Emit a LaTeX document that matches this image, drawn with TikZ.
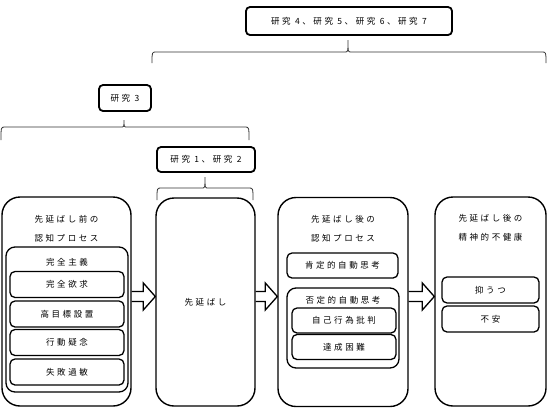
\documentclass[tikz,border=0pt]{standalone}
\usepackage{fontspec}
\newfontfamily\jp{Noto Sans CJK JP}[LetterSpace=30]
\usetikzlibrary{calc}
\newcommand\blockarr[2]{%
  \draw[barrow] ($(#1 |- ay)+(0,-5)$) -- ($(#2 |- ay)+(-12,-5)$) -- ($(#2 |- ay)+(-12,-13.5)$)
    -- (#2 |- ay) -- ($(#2 |- ay)+(-12,13.5)$) -- ($(#2 |- ay)+(-12,5)$) -- ($(#1 |- ay)+(0,5)$);}
\begin{document}
\begin{tikzpicture}[x=1pt,y=-1pt,
  jp/.style={font=\jp\fontsize{8.5}{10}\selectfont},
  bigbox/.style={draw, line width=1.4pt, rounded corners=18pt, inner sep=0pt, jp},
  midbox/.style={draw, line width=1.3pt, rounded corners=9pt, inner sep=0pt},
  subbox/.style={draw, line width=1.3pt, rounded corners=5pt, inner sep=0pt, jp},
  studybox/.style={draw, line width=1.8pt, rounded corners=4pt, inner sep=0pt, jp},
  title/.style={align=center, inner sep=0pt, font=\jp\fontsize{8.5}{19}\selectfont},
  label/.style={inner sep=0pt, jp},
  brace/.style={draw, line width=0.8pt, black!80},
  barrow/.style={draw, line width=1.3pt, line join=miter},
]
\useasboundingbox (0,0) rectangle (549,410);

% study boxes
\node[studybox, minimum width=206pt, minimum height=28pt] (r47) at (349,21) {研究 4、研究 5、研究 6、研究 7};
\node[studybox, minimum width=52pt, minimum height=26pt] (r3) at (125,98) {研究 3};
\node[studybox, minimum width=98pt, minimum height=25pt] (r12) at (206,159.5) {研究 1、研究 2};

% braces
\draw[brace] (152,63) .. controls (152,52) .. (156,52) -- (345,52) .. controls (348,52) .. (348,40)
  .. controls (348,52) .. (351,52) -- (542,52) .. controls (546,52) .. (546,63);
\draw[brace] (1,140) .. controls (1,127) .. (5,127) -- (121,127) .. controls (124,127) .. (124,120)
  .. controls (124,127) .. (127,127) -- (245,127) .. controls (249,127) .. (249,140);
\draw[brace] (157,200) .. controls (157,188) .. (161,188) -- (202,188) .. controls (205,188) .. (205,177)
  .. controls (205,188) .. (208,188) -- (249,188) .. controls (253,188) .. (253,200);

% main boxes
\node[bigbox, minimum width=129pt, minimum height=209pt] (b1) at (66.5,301.5) {};
\node[bigbox, minimum width=99pt, minimum height=208pt] (b2) at (205.5,302) {先延ばし};
\node[bigbox, minimum width=130pt, minimum height=209pt] (b3) at (343,302) {};
\node[bigbox, minimum width=111pt, minimum height=209pt] (b4) at (490.5,301.5) {};

\node[title] (t1) at (66.5,228.5) {先延ばし前の\\認知プロセス};
\node[title] (t3) at (343,228.5) {先延ばし後の\\認知プロセス};
\node[title] (t4) at (490.5,227.5) {先延ばし後の\\精神的不健康};

% box 1 contents
\node[midbox, minimum width=122pt, minimum height=145pt] (m1) at (67,319.5) {};
\node[label] (m1l) at (67,262) {完全主義};
\node[subbox, minimum width=114pt, minimum height=26pt] (s1) at (67,284.5) {完全欲求};
\node[subbox, minimum width=114pt, minimum height=26pt] (s2) at (67,314) {高目標設置};
\node[subbox, minimum width=114pt, minimum height=26pt] (s3) at (67,342.5) {行動疑念};
\node[subbox, minimum width=114pt, minimum height=26pt] (s4) at (67,372) {失敗過敏};

% box 3 contents
\node[subbox, minimum width=111pt, minimum height=25pt] (p1) at (342.5,265.5) {肯定的自動思考};
\node[midbox, minimum width=112pt, minimum height=80pt] (n1) at (343,328) {};
\node[label] (n1l) at (343,300) {否定的自動思考};
\node[subbox, minimum width=104pt, minimum height=25pt] (n2) at (344,320.5) {自己行為批判};
\node[subbox, minimum width=104pt, minimum height=25pt] (n3) at (344,347) {達成困難};

% box 4 contents
\node[subbox, minimum width=97pt, minimum height=26pt] (d1) at (490.5,290) {抑うつ};
\node[subbox, minimum width=97pt, minimum height=26pt] (d2) at (490.5,319) {不安};

% block arrows
\coordinate (ay) at (0,296.5);
\blockarr{b1.east}{b2.west}
\blockarr{b2.east}{b3.west}
\blockarr{b3.east}{b4.west}
\end{tikzpicture}
\end{document}
